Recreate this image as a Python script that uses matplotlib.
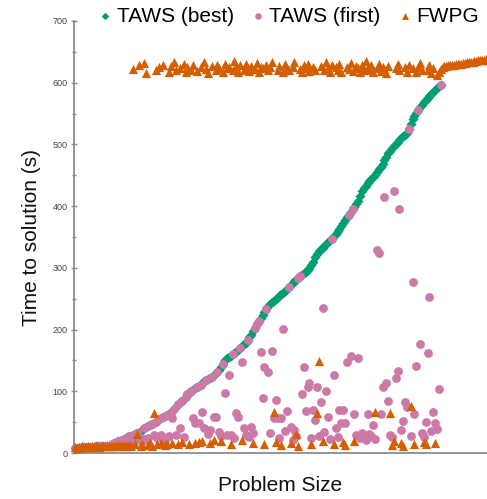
import matplotlib.pyplot as plt
import numpy as np
from matplotlib.ticker import MultipleLocator

plt.rcParams['font.family'] = ['Liberation Sans', 'DejaVu Sans']

# problems sorted by TAWS (best) time, seconds
taws_best = [
    9, 9, 9, 9, 10, 10, 10, 10, 10, 10,
    10, 11, 11, 11, 11, 11, 12, 12, 12, 13,
    14, 16, 17, 19, 20, 22, 23, 25, 26, 27,
    28, 29, 31, 32, 33, 36, 38, 41, 42, 44,
    45, 47, 48, 50, 52, 55, 57, 59, 60, 62,
    64, 65, 68, 71, 75, 79, 82, 85, 88, 91,
    95, 97, 100, 102, 105, 107, 109, 111, 113, 116,
    118, 120, 122, 124, 126, 129, 131, 135, 140, 145,
    150, 154, 156, 158, 160, 162, 164, 167, 170, 173,
    176, 179, 183, 188, 192, 197, 203, 209, 214, 219,
    224, 229, 234, 238, 241, 244, 247, 250, 253, 255,
    258, 260, 263, 266, 269, 272, 275, 278, 281, 284,
    287, 289, 292, 294, 297, 300, 304, 310, 317, 323,
    327, 330, 333, 335, 339, 342, 345, 347, 351, 355,
    359, 363, 368, 372, 377, 382, 386, 391, 395, 399,
    404, 409, 416, 424, 430, 433, 437, 440, 444, 447,
    451, 455, 460, 464, 468, 474, 480, 486, 490, 494,
    497, 501, 504, 507, 510, 513, 516, 519, 525, 533,
    541, 546, 551, 556, 560, 564, 568, 572, 576, 579,
    582, 585, 588, 591, 594, 597,
]

taws_first = [
    9, 9, 9, 9, 10, 10, 10, 10, 10, 10,
    10, 11, 11, 11, 11, 11, 12, 12, 12, 13,
    14, 16, 17, 19, 20, 22, 21, 25, 20, 27,
    22, 29, 24, 32, 23, 20, 25, 41, 22, 24,
    45, 47, 29, 50, 24, 55, 29, 59, 22, 62,
    28, 65, 57, 71, 30, 79, 41, 85, 26, 91,
    95, 97, 100, 57, 49, 107, 49, 111, 66, 41,
    118, 31, 37, 124, 58, 58, 131, 34, 27, 145,
    97, 29, 126, 29, 160, 24, 65, 58, 170, 147,
    41, 30, 183, 26, 42, 32, 203, 209, 214, 164,
    89, 139, 234, 131, 32, 165, 57, 86, 57, 25,
    57, 201, 36, 68, 269, 42, 22, 37, 28, 284,
    287, 96, 139, 68, 107, 113, 24, 70, 53, 107,
    27, 83, 235, 34, 100, 58, 23, 347, 126, 40,
    26, 70, 49, 70, 49, 147, 386, 157, 395, 63,
    29, 154, 25, 33, 28, 22, 63, 31, 27, 45,
    23, 329, 324, 63, 107, 415, 113, 84, 30, 26,
    424, 121, 133, 395, 37, 52, 83, 75, 525, 28,
    277, 63, 141, 556, 177, 32, 26, 50, 162, 253,
    36, 66, 49, 39, 104, 597,
]

fwpg = [
    10, 9, 10, 10, 11, 10, 10, 11, 10, 11,
    10, 11, 11, 10, 11, 11, 12, 11, 12, 11,
    12, 11, 12, 13, 12, 11, 13, 12, 12, 13,
    12, 622, 14, 31, 628, 12, 15, 632, 615, 13,
    16, 12, 65, 621, 14, 625, 17, 628, 13, 15,
    618, 627, 16, 634, 620, 14, 623, 18, 630, 617,
    625, 15, 621, 628, 17, 619, 18, 626, 20, 633,
    622, 616, 17, 627, 21, 620, 629, 624, 19, 618,
    631, 623, 626, 15, 620, 635, 625, 617, 628, 22,
    621, 630, 624, 619, 627, 16, 622, 632, 618, 626,
    623, 14, 629, 620, 625, 634, 66, 18, 621, 627,
    13, 618, 630, 624, 620, 17, 626, 633, 31, 12,
    622, 617, 628, 624, 631, 619, 15, 625, 621, 65,
    149, 627, 19, 620, 634, 623, 618, 628, 14, 625,
    621, 630, 617, 18, 13, 626, 622, 632, 619, 20,
    627, 624, 618, 629, 621, 635, 625, 620, 628, 617,
    66, 623, 630, 619, 626, 622, 615, 627, 65, 13,
    19, 624, 631, 620, 16, 12, 626, 618, 629, 76,
    623, 15, 617, 625, 632, 620, 18, 14, 621, 628,
    616, 624, 16, 612, 618, 622, 626, 627, 627, 628,
    628, 629, 629, 630, 630, 631, 631, 632, 632, 633,
    633, 634, 634, 635, 635, 636, 636, 637, 637, 638,
]

x_taws = np.arange(len(taws_best))
x_fwpg = np.arange(len(fwpg))

fig = plt.figure(figsize=(4.87, 4.99), dpi=100)
ax = fig.add_axes([0.152, 0.092, 0.848, 0.866])

ax.scatter(x_taws, taws_best, marker='D', s=26, color='#009E73',
           linewidths=0, label='TAWS (best)', zorder=3, clip_on=False)
ax.scatter(x_taws, taws_first, marker='o', s=40, color='#CC79A7',
           linewidths=0, label='TAWS (first)', zorder=4, clip_on=False)
ax.scatter(x_fwpg, fwpg, marker='^', s=44, color='#D55E00',
           linewidths=0, label='FWPG', zorder=5, clip_on=False)

ax.set_xlim(-0.5, 219.7)
ax.set_ylim(0, 700)
ax.set_xticks([])
ax.set_yticks(range(0, 701, 100))
ax.yaxis.set_minor_locator(MultipleLocator(50))

for side in ['top', 'right']:
    ax.spines[side].set_visible(False)
for side in ['left', 'bottom']:
    ax.spines[side].set_color('#8c8c8c')
    ax.spines[side].set_linewidth(1.3)

ax.tick_params(axis='y', which='major', direction='inout', length=5,
               width=1, color='#8c8c8c', labelsize=6.5, labelcolor='#444444',
               pad=2)
ax.tick_params(axis='y', which='minor', direction='inout', length=3,
               width=1, color='#8c8c8c')

ax.set_ylabel('Time to solution (s)', fontsize=15, color='#111111')
ax.yaxis.set_label_coords(-0.08, 0.5)
ax.set_xlabel('Problem Size', fontsize=15, color='#111111')
ax.xaxis.set_label_coords(0.5, -0.053)

fig.legend(loc='center', bbox_to_anchor=(0.59, 0.967), ncol=3,
           frameon=False, fontsize=15, handletextpad=0.1, markerscale=0.75,
           columnspacing=0.7, handlelength=0.9, borderaxespad=0)

fig.savefig('out.png', dpi=100)
